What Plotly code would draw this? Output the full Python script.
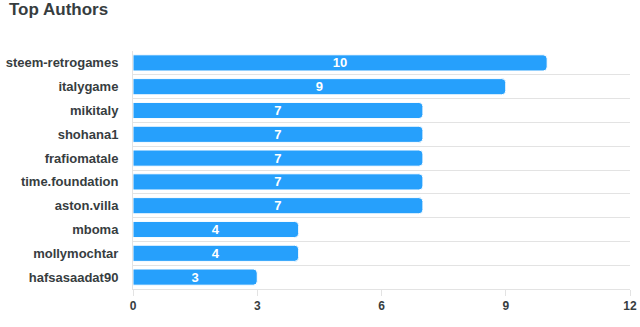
import plotly.graph_objects as go

authors = ["steem-retrogames", "italygame", "mikitaly", "shohana1", "frafiomatale",
           "time.foundation", "aston.villa", "mboma", "mollymochtar", "hafsasaadat90"]
posts = [10, 9, 7, 7, 7, 7, 7, 4, 4, 3]
x_ticks = [0, 3, 6, 9, 12]

FONT = "Liberation Sans, Arial, Helvetica, sans-serif"
TXT = "#373d3f"
GRID = "#e3e3e3"

fig = go.Figure(go.Bar(
    x=posts, y=authors, orientation="h",
    marker=dict(color="#26A0FC", cornerradius=4, line=dict(color="white", width=1)),
    texttemplate="%{x}", textposition="inside", insidetextanchor="middle", textangle=0,
    textfont=dict(color="white", size=13, family=FONT, weight="bold"),
    hoverinfo="skip",
))

fig.update_layout(
    width=640, height=327,
    margin=dict(l=133, r=10, t=51, b=38),
    paper_bgcolor="white", plot_bgcolor="white",
    bargap=0.32,
    showlegend=False,
    uniformtext=dict(minsize=13, mode="show"),
    title=dict(text="<b>Top Authors</b>", x=9/640, xref="container", xanchor="left",
               y=1-3/327, yref="container", yanchor="top",
               font=dict(size=17, color=TXT, family=FONT)),
    font=dict(family=FONT, color=TXT),
)
fig.update_xaxes(
    range=[0, 12], tickvals=x_ticks, showgrid=False, zeroline=False,
    showline=True, linecolor=GRID, linewidth=1,
    ticks="outside", ticklen=6, tickcolor=GRID, automargin=False,
    tickfont=dict(size=12, color=TXT, family=FONT, weight="bold"),
)
fig.update_yaxes(
    type="category", autorange="reversed", tickson="boundaries",
    showgrid=True, gridcolor=GRID, gridwidth=1,
    showline=True, linecolor=GRID, linewidth=1, automargin=False,
    ticks="", ticklabelstandoff=11,
    tickfont=dict(size=13, color=TXT, family=FONT, weight="bold"),
)

fig.write_html("out.html")
